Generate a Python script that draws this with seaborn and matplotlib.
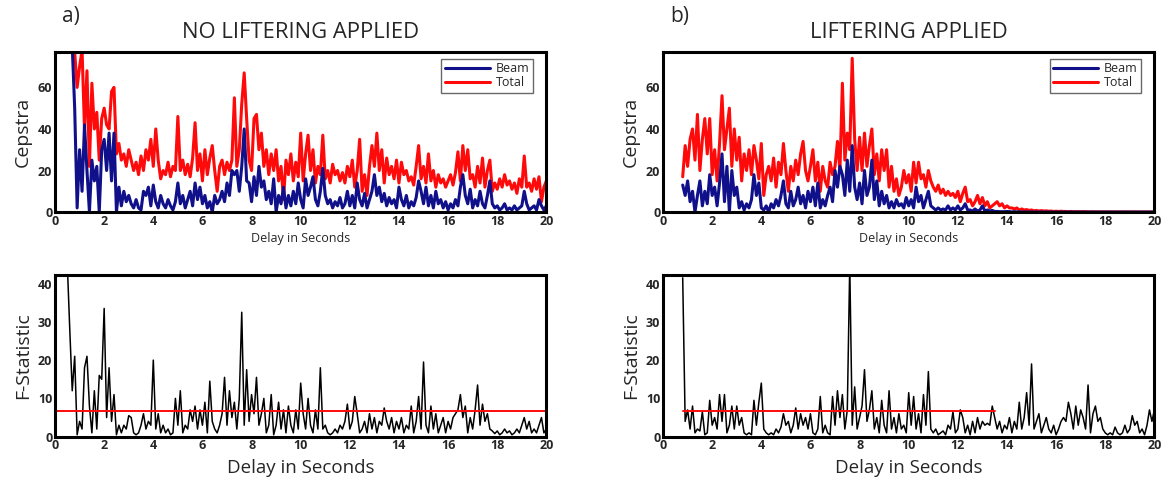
import numpy as np
import pandas as pd
import matplotlib
matplotlib.use("Agg")
import matplotlib.pyplot as plt
import seaborn as sns

# Section 1 - Data (0.1 s steps)

start_a = 0.7
total_a = [80, 77, 60,
           70, 78, 40, 68, 22, 62, 40, 48, 25, 45,
           50, 42, 40, 58, 60, 28, 33, 25, 28, 22,
           30, 25, 20, 24, 18, 27, 20, 30, 25, 35,
           22, 40, 25, 16, 20, 18, 24, 17, 22, 20,
           46, 20, 25, 18, 23, 17, 26, 43, 20, 28,
           15, 30, 18, 26, 32, 20, 10, 22, 25, 18,
           24, 20, 25, 55, 22, 30, 52, 67, 45, 25,
           20, 45, 47, 30, 38, 22, 30, 18, 28, 20,
           30, 15, 22, 6, 25, 18, 28, 15, 24, 17,
           38, 15, 28, 37, 20, 30, 14, 22, 18, 37,
           16, 20, 14, 23, 18, 20, 15, 19, 14, 22,
           17, 25, 12, 20, 35, 10, 18, 8, 22, 32,
           22, 38, 20, 30, 14, 26, 18, 22, 16, 25,
           14, 24, 18, 20, 15, 17, 13, 22, 32, 16,
           22, 14, 28, 15, 20, 12, 18, 14, 16, 12,
           15, 18, 13, 19, 29, 15, 32, 20, 30, 16,
           18, 12, 22, 14, 26, 12, 20, 25, 10, 14,
           11, 16, 12, 18, 13, 15, 11, 14, 9, 16,
           12, 27, 12, 14, 10, 16, 11, 17, 5, 12,
           15]
beam_a = [80, 50, 2,
          30, 10, 42, 20, 0, 25, 15, 22, 0, 30,
          35, 20, 38, 15, 38, 0, 12, 3, 10, 5,
          8, 4, 2, 6, 2, 1, 10, 8, 12, 3,
          13, 5, 2, 8, 4, 2, 6, 3, 1, 5,
          14, 4, 8, 2, 6, 10, 3, 14, 6, 12,
          4, 8, 2, 5, 0, 8, 4, 6, 10, 5,
          14, 8, 20, 18, 20, 10, 22, 40, 15, 14,
          5, 17, 8, 22, 12, 15, 6, 10, 4, 16,
          0, 8, 4, 12, 2, 8, 3, 10, 4, 14,
          6, 2, 16, 8, 12, 17, 6, 3, 10, 21,
          8, 4, 6, 2, 5, 3, 7, 2, 4, 10,
          3, 8, 2, 14, 6, 3, 9, 2, 6, 10,
          18, 8, 12, 5, 9, 3, 7, 4, 6, 2,
          12, 6, 3, 8, 2, 5, 3, 7, 15, 10,
          4, 12, 3, 8, 2, 10, 4, 6, 2, 5,
          1, 4, 2, 6, 3, 12, 18, 8, 4, 11,
          2, 6, 3, 10, 4, 2, 8, 15, 4, 2,
          3, 1, 2, 4, 1, 2, 1, 3, 1, 2,
          3, 10, 4, 1, 2, 3, 1, 6, 3, 1,
          3]

start_b = 0.8
total_b = [17, 32,
           22, 35, 40, 25, 47, 20, 35, 45, 28, 45,
           18, 30, 15, 33, 56, 30, 40, 50, 22, 40,
           25, 36, 15, 28, 20, 30, 18, 32, 25, 16,
           33, 8, 18, 22, 15, 26, 12, 24, 18, 33,
           20, 10, 22, 15, 25, 18, 28, 34, 20, 15,
           22, 30, 15, 24, 10, 22, 15, 12, 24, 18,
           22, 34, 20, 62, 25, 38, 30, 74, 35, 20,
           36, 20, 38, 22, 32, 40, 18, 28, 15, 30,
           20, 30, 12, 22, 10, 16, 8, 12, 20, 14,
           18, 10, 24, 14, 24, 16, 18, 12, 20, 15,
           12, 10, 13, 9, 11, 8, 10, 8, 9, 7,
           10, 5, 9, 12, 5, 6, 3, 5, 8, 4,
           7, 3, 5, 2, 3, 4, 5, 3, 4, 2,
           3, 2, 2, 1.5, 2, 1, 1.5, 1, 1.2, 0.8,
           1, 0.6, 0.8, 0.5, 0.7, 0.5, 0.6, 0.4, 0.5, 0.3,
           0.4, 0.3, 0.4, 0.3, 0.3, 0.2, 0.3, 0.2, 0.2, 0.2,
           0.2, 0.15, 0.2, 0.1, 0.15, 0.1, 0.1, 0.1, 0.1, 0.1,
           0.1, 0.05, 0.1, 0.05, 0.05, 0.05, 0.05, 0.05, 0.05, 0.05,
           0.05, 0.05, 0.05, 0.05, 0.05, 0.05, 0.05, 0.05, 0.05, 0.05,
           0.05]
beam_b = [13, 8,
          15, 5, 10, 0, 8, 15, 3, 10, 4, 18,
          8, 12, 3, 14, 28, 5, 22, 0, 20, 8,
          12, 2, 5, 1, 4, 2, 6, 18, 8, 14,
          2, 1, 3, 0, 4, 2, 6, 3, 8, 15,
          4, 2, 10, 3, 6, 12, 4, 8, 2, 10,
          5, 12, 3, 14, 2, 6, 3, 8, 12, 5,
          20, 12, 22, 18, 8, 25, 10, 32, 12, 6,
          14, 4, 20, 8, 12, 25, 6, 15, 3, 10,
          4, 8, 2, 5, 2, 6, 3, 4, 2, 7,
          3, 6, 2, 12, 5, 8, 2, 6, 10, 3,
          2, 1, 2, 1, 1.5, 1, 3, 1, 2, 1,
          3, 1, 2, 4, 1, 1, 0.5, 1.5, 0.5, 1,
          3, 0.5, 1, 0.5, 0.8, 0.3, 0.3, 0.2, 0.2, 0.2,
          0.3, 0.2, 0.1, 0.2, 0.1, 0.1, 0.05, 0.1, 0.05, 0.05,
          0, 0, 0, 0, 0, 0, 0, 0, 0, 0,
          0, 0, 0, 0, 0, 0, 0, 0, 0, 0,
          0, 0, 0, 0, 0, 0, 0, 0, 0, 0,
          0, 0, 0, 0, 0, 0, 0, 0, 0, 0,
          0, 0, 0, 0, 0, 0, 0, 0, 0, 0,
          0]

start_fa = 0.5
fstat_a = [45, 28, 12, 21, 0.5,
           4, 2, 18, 21, 8, 1, 12, 2, 16, 15,
           33.5, 5, 18, 4, 11, 0.5, 3, 1, 3, 2,
           5.5, 5, 1, 0.5, 1, 3, 6, 2, 4, 3,
           20, 2, 6, 1, 3, 1, 2, 0.5, 1, 10,
           3, 12, 1, 3, 2, 7, 4, 8, 2, 7,
           3, 9, 1, 14.5, 4, 2, 1, 3, 6, 15.5,
           3, 12, 5, 9, 2, 10, 32.5, 3, 17.5, 4,
           11, 6, 15.5, 3, 6, 10, 1, 3, 11, 0.5,
           3, 9, 2, 7, 1, 8, 3, 1, 7, 2,
           14, 6, 2, 10, 3, 1, 7, 2, 18, 2,
           3, 1, 0.5, 1, 2, 1, 3, 2, 4, 8.5,
           2, 4, 10.5, 6, 1, 2, 4, 1, 6, 2,
           5, 1, 4, 3, 7.5, 4, 2, 5, 1, 4,
           2, 5, 1, 3, 2, 8, 1, 4, 10.5, 2,
           19.5, 3, 1, 8, 2, 6, 1, 3, 5, 1,
           4, 2, 5, 6, 7, 11, 5, 8, 1, 5,
           2, 7, 13.5, 3, 8.5, 4, 6, 2, 1.5, 0.8,
           1.5, 0.5, 1, 2, 1, 1.5, 0.5, 1, 2, 1,
           3, 5, 2, 4, 1, 2, 1, 3, 5, 1,
           2]

start_fb = 0.8
fstat_b = [41.5, 4,
           7, 2, 8, 1, 2, 1.5, 6.5, 0.5, 1, 9.5,
           3, 5, 2, 11, 4, 11, 1, 3, 8, 2,
           8, 3, 5, 1, 0.5, 1, 0.5, 9.5, 3, 9,
           14, 2, 1, 0.5, 1, 0.5, 2, 1, 2.5, 6,
           3, 4, 1, 3, 7.5, 2, 6, 3, 5, 2,
           6, 1, 0.5, 2, 10.5, 1, 3, 1, 0.5, 10.5,
           3, 12, 5, 11, 2, 7, 45, 3, 13, 2,
           5, 8, 17.5, 4, 7, 12, 2, 5, 1, 9.5,
           3, 1, 12, 2, 5, 1, 6, 2, 3, 1,
           11.5, 3, 10.5, 2, 6, 1, 11, 3, 17, 2,
           1, 2, 0.5, 1, 1.5, 0.5, 3, 2, 6.5, 1,
           2, 7, 5, 1, 3, 0.5, 4, 1, 5, 2,
           4, 3, 3.5, 3, 8, 5, 2, 4, 1, 3,
           2, 5, 1, 4, 2, 9, 2, 5, 11.5, 3,
           19, 2, 4, 6, 1, 3, 5, 2, 1, 3,
           0.5, 2, 4, 5, 4, 9, 6, 2, 8, 3,
           7, 5, 2, 13.5, 1, 6, 8, 4, 5, 2,
           1, 0.5, 1, 0.5, 2.5, 1, 0.5, 1, 3, 1,
           2, 5.5, 3, 4, 1, 2, 0.5, 3, 7, 4,
           7]

threshold = 6.6
thresh_span_a = [0, 20]
thresh_span_b = [0.8, 13.5]

titles = ["NO LIFTERING APPLIED", "LIFTERING APPLIED"]
panel_tags = ["a)", "b)"]


def delays(start, vals):
    return np.round(start + 0.1 * np.arange(len(vals)), 2)


# Section 2 - Style

sns.set_style("white")
plt.rcParams["font.family"] = ["Open Sans", "DejaVu Sans"]

navy = "#10108a"
red = "#ff0a0a"

fig = plt.figure(figsize=(11.61, 4.82), dpi=100)

w = 0.4232
ax_tl = fig.add_axes([0.0474, 0.560, w, 0.332])
ax_tr = fig.add_axes([0.5711, 0.560, w, 0.332])
ax_bl = fig.add_axes([0.0474, 0.094, w, 0.336])
ax_br = fig.add_axes([0.5711, 0.094, w, 0.336])

# Section 3 - Cepstra panels

cep = [(ax_tl, start_a, total_a, beam_a), (ax_tr, start_b, total_b, beam_b)]
for i, (ax, st, tot, bm) in enumerate(cep):
    df = pd.DataFrame({"delay": delays(st, tot), "Total": tot, "Beam": bm})
    sns.lineplot(data=df, x="delay", y="Total", ax=ax, color=red, lw=2.2, label="Total")
    sns.lineplot(data=df, x="delay", y="Beam", ax=ax, color=navy, lw=2.2, label="Beam")
    ax.set_ylim(0, 77)
    ax.set_yticks([0, 20, 40, 60])
    ax.set_ylabel("Cepstra", fontsize=14, labelpad=4)
    ax.set_xlabel("Delay in Seconds", fontsize=9, labelpad=3)
    h, l = ax.get_legend_handles_labels()
    leg = ax.legend(h[::-1], l[::-1], loc="upper right", fontsize=9, frameon=True,
                    fancybox=False, edgecolor="#444444", handlelength=3.6,
                    borderpad=0.25, labelspacing=0.1, handletextpad=0.5,
                    bbox_to_anchor=(0.985, 0.995))
    leg.get_frame().set_linewidth(1.0)
    ax.set_title(titles[i], fontsize=15.8, pad=10)

# Section 4 - F-statistic panels

fst = [(ax_bl, start_fa, fstat_a, thresh_span_a), (ax_br, start_fb, fstat_b, thresh_span_b)]
for ax, st, fv, span in fst:
    df = pd.DataFrame({"delay": delays(st, fv), "F": fv})
    sns.lineplot(data=df, x="delay", y="F", ax=ax, color="black", lw=1.1)
    ax.plot(span, [threshold, threshold], color=red, lw=1.4)
    ax.set_ylim(0, 42.3)
    ax.set_yticks([0, 10, 20, 30, 40])
    ax.set_ylabel("F-Statistic", fontsize=14, labelpad=4)
    ax.set_xlabel("Delay in Seconds", fontsize=13.5, labelpad=5)

for ax in [ax_tl, ax_tr, ax_bl, ax_br]:
    ax.set_xlim(0, 20)
    ax.set_xticks(range(0, 21, 2))
    for s in ax.spines.values():
        s.set_linewidth(2.2)
        s.set_color("black")
    ax.tick_params(direction="in", length=3, width=0.8, labelsize=9, pad=2)
    for lab in ax.get_xticklabels() + ax.get_yticklabels():
        lab.set_fontweight("bold")

fig.text(0.053, 0.965, panel_tags[0], fontsize=15, va="center")
fig.text(0.577, 0.965, panel_tags[1], fontsize=15, va="center")

fig.savefig("out.png", dpi=100)
